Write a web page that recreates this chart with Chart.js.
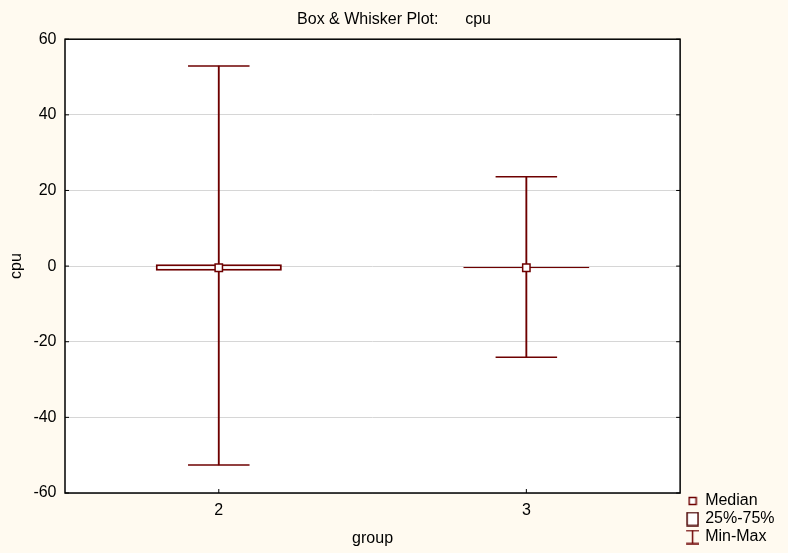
<!DOCTYPE html>
<html>
<head>
<meta charset="utf-8">
<script src="https://cdn.jsdelivr.net/npm/chart.js@4/dist/chart.umd.min.js"></script>
<style>
  html, body {margin: 0; padding: 0; background: #fffaf0;}
  #wrap {width: 788px; height: 553px;}
</style>
</head>
<body>
<div id="wrap"><canvas id="chart"></canvas></div>
<script>
// values
const groups = ['2', '3'];
const maxValues = [52.9, 23.6];
const q3Values = [0.5, -0.15];
const medianValues = [-0.45, -0.45];
const q1Values = [-1.2, -0.55];
const minValues = [-52.6, -24.1];
const yTicks = [-60, -40, -20, 0, 20, 40, 60];
const legendNames = ['Median', '25%-75%', 'Min-Max'];

const red = '#6e0000';
const font = 'Liberation Sans, Arial, sans-serif';

// small canvases used as legend icons
const icon = (w, h, draw) => {
  const c = document.createElement('canvas');
  c.width = w;
  c.height = h;
  draw(c.getContext('2d'));
  return c;
};
const medianIcon = icon(10, 10, (g) => {
  g.fillStyle = '#fff';
  g.fillRect(1.5, 1.5, 7, 7);
  g.strokeStyle = red;
  g.lineWidth = 1.5;
  g.strokeRect(1.5, 1.5, 7, 7);
});
const boxIcon = icon(13, 15, (g) => {
  g.fillStyle = '#fff';
  g.fillRect(1, 1, 11, 13);
  g.strokeStyle = '#4a0000';
  g.lineWidth = 1.5;
  g.strokeRect(1, 1, 11, 13);
});
const whiskerIcon = icon(13, 15, (g) => {
  g.strokeStyle = red;
  g.lineWidth = 1.5;
  g.beginPath();
  g.moveTo(0, 1); g.lineTo(13, 1);
  g.moveTo(0, 14); g.lineTo(13, 14);
  g.moveTo(6.5, 1); g.lineTo(6.5, 14);
  g.stroke();
});
const legendIcons = [medianIcon, boxIcon, whiskerIcon];

// white plot area, frame and inward tick marks
const frame = {
  id: 'frame',
  beforeDatasetsDraw(chart) {
    const {ctx, chartArea: a} = chart;
    ctx.save();
    ctx.fillStyle = '#fff';
    ctx.globalCompositeOperation = 'destination-over';
    ctx.fillRect(a.left, a.top, a.right - a.left, a.bottom - a.top);
    ctx.restore();
  },
  afterDraw(chart) {
    const {ctx, chartArea: a, scales} = chart;
    ctx.save();
    ctx.strokeStyle = '#000';
    ctx.lineWidth = 1;
    ctx.beginPath();
    scales.y.ticks.forEach((t) => {
      const py = scales.y.getPixelForValue(t.value);
      ctx.moveTo(a.left, py); ctx.lineTo(a.left + 4, py);
      ctx.moveTo(a.right, py); ctx.lineTo(a.right - 4, py);
    });
    groups.forEach((g, i) => {
      const px = scales.x.getPixelForValue(i);
      ctx.moveTo(px, a.bottom); ctx.lineTo(px, a.bottom - 4);
    });
    ctx.stroke();
    ctx.lineWidth = 1.5;
    ctx.strokeRect(a.left, a.top, a.right - a.left, a.bottom - a.top);
    ctx.restore();
  },
};

Chart.defaults.font.family = font;
Chart.defaults.font.size = 16;
Chart.defaults.color = '#000';

new Chart(document.getElementById('chart'), {
  type: 'bar',
  data: {
    labels: groups,
    datasets: [{
      type: 'line',
      label: 'Median',
      data: medianValues,
      showLine: false,
      pointStyle: 'rect',
      pointRadius: 5.2,
      pointBackgroundColor: '#fff',
      pointBorderColor: red,
      pointBorderWidth: 1.5,
      order: 0,
    }, {
      label: '25%-75%',
      data: groups.map((g, i) => [q1Values[i], q3Values[i]]),
      backgroundColor: '#fff',
      borderColor: red,
      borderWidth: 2,
      borderSkipped: false,
      grouped: false,
      categoryPercentage: 1,
      barPercentage: 0.41,
      order: 1,
    }, {
      type: 'line',
      label: 'Max',
      data: maxValues,
      showLine: false,
      pointStyle: 'line',
      pointRadius: 30.75,
      pointBorderColor: red,
      pointBorderWidth: 1.5,
      order: 2,
    }, {
      type: 'line',
      label: 'Min',
      data: minValues,
      showLine: false,
      pointStyle: 'line',
      pointRadius: 30.75,
      pointBorderColor: red,
      pointBorderWidth: 1.5,
      order: 2,
    }, {
      label: 'Min-Max',
      data: groups.map((g, i) => [minValues[i], maxValues[i]]),
      backgroundColor: red,
      borderWidth: 0,
      grouped: false,
      barThickness: 1.2,
      order: 3,
    }],
  },
  options: {
    responsive: true,
    maintainAspectRatio: false,
    animation: false,
    events: [],
    layout: {
      padding: {left: 3.5, right: 3.5, top: 0, bottom: 6},
    },
    scales: {
      x: {
        offset: true,
        grid: {display: false, drawTicks: false},
        border: {display: false},
        ticks: {padding: 8},
        title: {
          display: true,
          text: 'group',
          font: {size: 16, lineHeight: 1},
          padding: {top: 0, bottom: 0},
        },
        afterFit: (s) => {
          s.height = 54;
        },
      },
      y: {
        min: -60,
        max: 60,
        afterBuildTicks: (s) => {
          s.ticks = yTicks.map((v) => ({value: v}));
        },
        grid: {color: '#d6d6d6', drawTicks: false},
        border: {display: false},
        ticks: {padding: 8.5},
        title: {
          display: true,
          text: 'cpu',
          padding: {top: 3, bottom: 0},
        },
        afterFit: (s) => {
          s.width = 61.5;
        },
      },
      y2: {
        position: 'right',
        display: true,
        grid: {display: false},
        border: {display: false},
        ticks: {display: false},
        afterFit: (s) => {
          s.width = 6;
        },
      },
    },
    plugins: {
      title: {
        display: true,
        text: 'Box & Whisker Plot:      cpu',
        font: {size: 16, weight: 'normal'},
        padding: {top: 10, bottom: 10},
      },
      tooltip: {enabled: false},
      legend: {
        position: 'right',
        align: 'end',
        labels: {
          usePointStyle: true,
          boxWidth: 9,
          padding: 2,
          font: {size: 16},
          generateLabels: () => legendNames.map((name, i) => ({
            text: name,
            pointStyle: legendIcons[i],
            fillStyle: '#fff',
            strokeStyle: red,
            lineWidth: 0,
            hidden: false,
            datasetIndex: i,
          })),
        },
      },
    },
  },
  plugins: [frame],
});
</script>
</body>
</html>
